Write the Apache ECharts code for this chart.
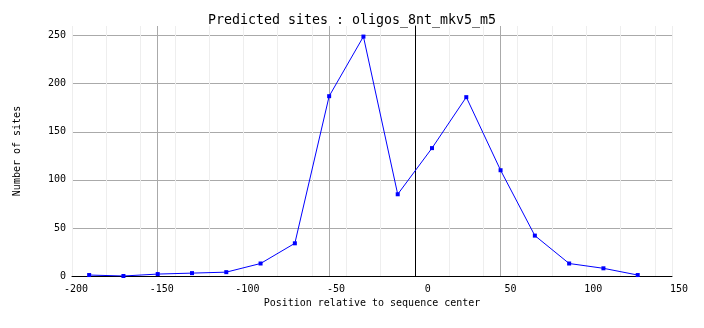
<!DOCTYPE html>
<html>
<head>
<meta charset="utf-8">
<script src="https://cdn.jsdelivr.net/npm/echarts@6/dist/echarts.min.js"></script>
<style>html,body{margin:0;padding:0;background:#fff;}#c{width:704px;height:328px;}</style>
</head>
<body>
<div id="c"></div>
<script>
const positions = [-190, -170, -150, -130, -110, -90, -70, -50, -30, -10, 10, 30, 50, 70, 90, 110, 130];
const sites = [1, 0, 2, 3, 4, 13, 34, 187, 249, 85, 133, 186, 110, 42, 13, 8, 1];
const titleText = 'Predicted sites : oligos_8nt_mkv5_m5';
const xTitle = 'Position relative to sequence center';
const yTitle = 'Number of sites';

const mono = 'DejaVu Sans Mono';
const chart = echarts.init(document.getElementById('c'), null, {renderer: 'canvas'});
chart.setOption({
  animation: false,
  backgroundColor: '#ffffff',
  title: {
    text: titleText, left: 'center', top: 9,
    textStyle: {fontFamily: mono, fontSize: 13.3, fontWeight: 'normal', color: '#000'}
  },
  grid: {left: 72, right: 32, top: 26, bottom: 52},
  xAxis: [{
    type: 'value', min: -200, max: 150, interval: 50,
    name: xTitle, nameLocation: 'middle', nameGap: 22,
    nameTextStyle: {fontFamily: mono, fontSize: 10, color: '#000'},
    axisLine: {show: true, onZero: false, lineStyle: {color: '#000', width: 1}},
    axisTick: {show: false},
    axisLabel: {fontFamily: mono, fontSize: 10, color: '#000', margin: 8, align: 'right', padding: [0, -16, 0, 0]},
    splitLine: {show: true, lineStyle: {color: '#aaaaaa', width: 1}}
  }, {
    type: 'value', min: -200, max: 150, interval: 20, position: 'bottom',
    axisLine: {show: false}, axisTick: {show: false}, axisLabel: {show: false},
    splitLine: {show: true, lineStyle: {color: '#eeeeee', width: 1}}
  }],
  yAxis: {
    type: 'value', min: 0, max: 260, interval: 50,
    name: yTitle, nameLocation: 'middle', nameGap: 50, nameRotate: 90,
    nameTextStyle: {fontFamily: mono, fontSize: 10, color: '#000'},
    axisLine: {show: true, lineStyle: {color: '#000', width: 1}},
    axisTick: {show: false},
    axisLabel: {fontFamily: mono, fontSize: 10, color: '#000', margin: 6, showMaxLabel: false, padding: [4, 0, 0, 0]},
    splitLine: {show: true, showMaxLine: false, lineStyle: {color: '#aaaaaa', width: 1}}
  },
  series: [{
    type: 'line', xAxisIndex: 0,
    data: positions.map((p, i) => [p, sites[i]]),
    symbol: 'rect', symbolSize: 4, showSymbol: true,
    itemStyle: {color: '#0000ff'},
    lineStyle: {color: '#0000ff', width: 1},
    z: 5,
    markLine: {
      silent: true, symbol: 'none', label: {show: false},
      lineStyle: {color: '#000', width: 1, type: 'solid'},
      data: [{xAxis: 0}]
    }
  }]
});
</script>
</body>
</html>
